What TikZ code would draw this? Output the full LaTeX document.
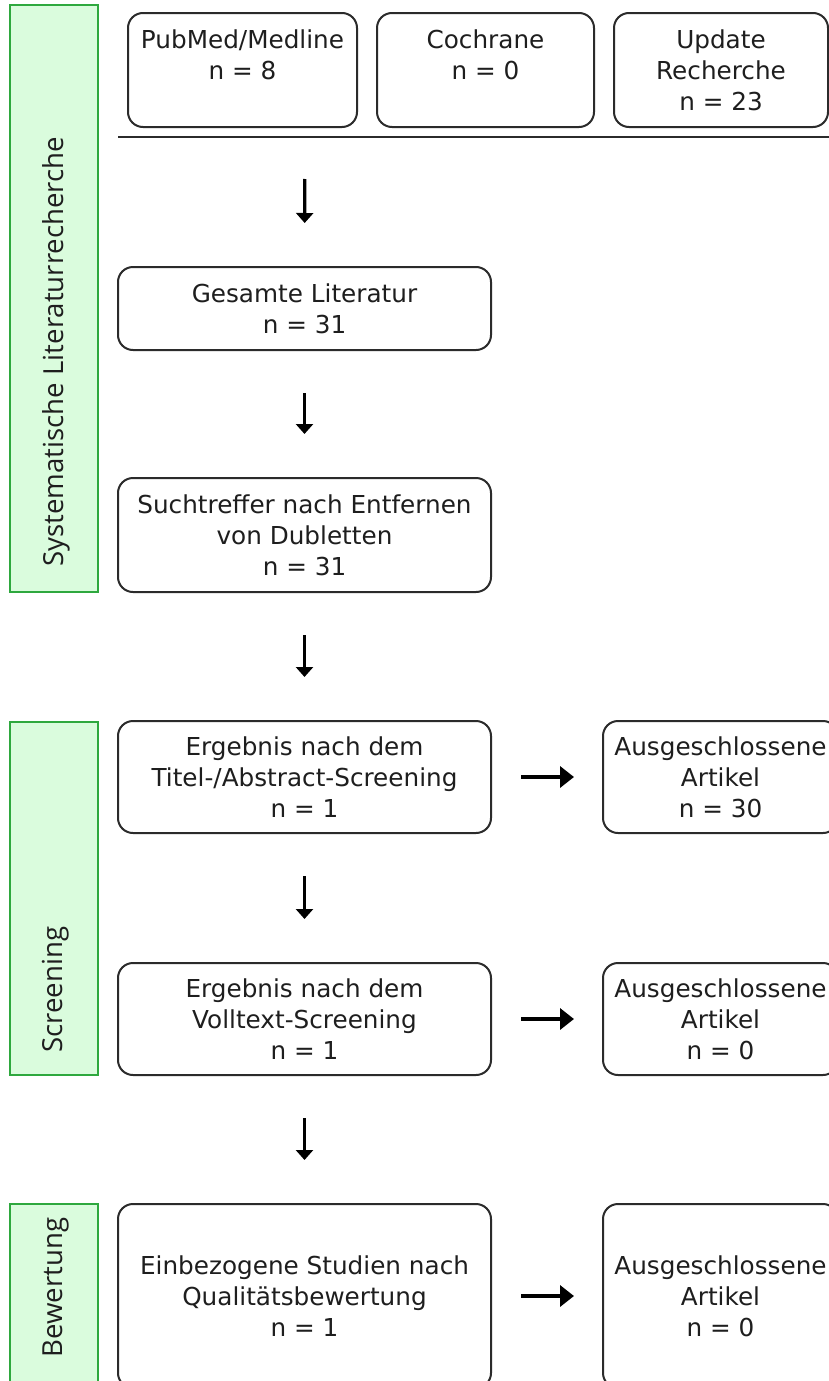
\documentclass[tikz,border=0pt]{standalone}
\usepackage{fontspec}
\setmainfont{DejaVu Sans}
\newfontfamily\panelfont{Open Sans}
\usetikzlibrary{arrows.meta}
\definecolor{boxline}{HTML}{2B2B2B}
\definecolor{txt}{HTML}{1E1E1E}
\definecolor{panelfill}{HTML}{DAFCDD}
\definecolor{panelline}{HTML}{2EA83E}
\tikzset{
  flowbox/.style={draw=boxline, line width=1pt, rounded corners=7.5pt, fill=white,
    align=center, text=txt, inner sep=0pt,
    font=\fontsize{12.35pt}{15.6pt}\selectfont},
  panel/.style={draw=panelline, fill=panelfill, line width=1.2pt, minimum width=44pt, inner sep=0pt},
  paneltext/.style={rotate=90, anchor=west, inner sep=0pt, text=txt,
    font=\panelfont\fontsize{13.8pt}{16pt}\selectfont},
  varr/.style={draw=black, line width=1.6pt, -{Triangle[length=5pt,width=8.5pt]},
    shorten <=21pt, shorten >=21.5pt},
  harr/.style={draw=black, line width=2.4pt, -{Triangle[length=7pt,width=10.5pt]},
    shorten <=14.5pt, shorten >=14pt},
  sepline/.style={draw=boxline, line width=1pt}
}
\begin{document}
\begin{tikzpicture}[x=0.5pt,y=-0.5pt]
\useasboundingbox (0,0) rectangle (829,1381);
% side panels
\node[panel, minimum height=293.5pt] (p1) at (54,298.5) {};
\node[panel, minimum height=176.5pt] (p2) at (54,898.5) {};
\node[panel, minimum height=93pt] (p3) at (54,1297) {};
\node[paneltext] (t1) at (56,567) {Systematische Literaturrecherche};
\node[paneltext] (t2) at (56,1053) {Screening};
\node[paneltext] (t3) at (56,1358) {Bewertung};
% top sources
\node[flowbox, minimum width=114.5pt, minimum height=57pt] (pub) at (242.5,70) {PubMed/Medline\\ n = 8\\ \mbox{}};
\node[flowbox, minimum width=108.5pt, minimum height=57pt] (coch) at (485.5,70) {Cochrane\\ n = 0\\ \mbox{}};
\node[flowbox, minimum width=107pt, minimum height=57pt] (upd) at (721,70) {Update\\ Recherche\\ n = 23};
\coordinate (l1) at (118,137);
\coordinate (l2) at (835,137);
\coordinate (sep) at (305,137);
\draw[sepline] (l1) -- (l2);
% main column
\node[flowbox, minimum width=186.5pt, minimum height=41.5pt] (ges) at (304.5,308.5) {Gesamte Literatur\\ n = 31};
\node[flowbox, minimum width=186.5pt, minimum height=57pt] (such) at (304.5,535) {Suchtreffer nach Entfernen\\ von Dubletten\\ n = 31};
\node[flowbox, minimum width=186.5pt, minimum height=56pt] (tit) at (304.5,777) {Ergebnis nach dem\\ Titel-/Abstract-Screening\\ n = 1};
\node[flowbox, minimum width=186.5pt, minimum height=56pt] (voll) at (304.5,1019) {Ergebnis nach dem\\ Volltext-Screening\\ n = 1};
\node[flowbox, minimum width=186.5pt, minimum height=92pt] (einb) at (304.5,1296) {Einbezogene Studien nach\\ Qualitätsbewertung\\ n = 1};
% excluded column
\node[flowbox, minimum width=117.5pt, minimum height=56pt] (aus1) at (720.5,777) {Ausgeschlossene\\ Artikel\\ n = 30};
\node[flowbox, minimum width=117.5pt, minimum height=56pt] (aus2) at (720.5,1019) {Ausgeschlossene\\ Artikel\\ n = 0};
\node[flowbox, minimum width=117.5pt, minimum height=92pt] (aus3) at (720.5,1296) {Ausgeschlossene\\ Artikel\\ n = 0};
% arrows
\draw[varr] (sep) -- (ges.north);
\draw[varr] (ges.south) -- (such.north);
\draw[varr] (such.south) -- (tit.north);
\draw[varr] (tit.south) -- (voll.north);
\draw[varr] (voll.south) -- (einb.north);
\draw[harr] (tit.east) -- (aus1.west);
\draw[harr] (voll.east) -- (aus2.west);
\draw[harr] (einb.east) -- (aus3.west);
\end{tikzpicture}
\end{document}
